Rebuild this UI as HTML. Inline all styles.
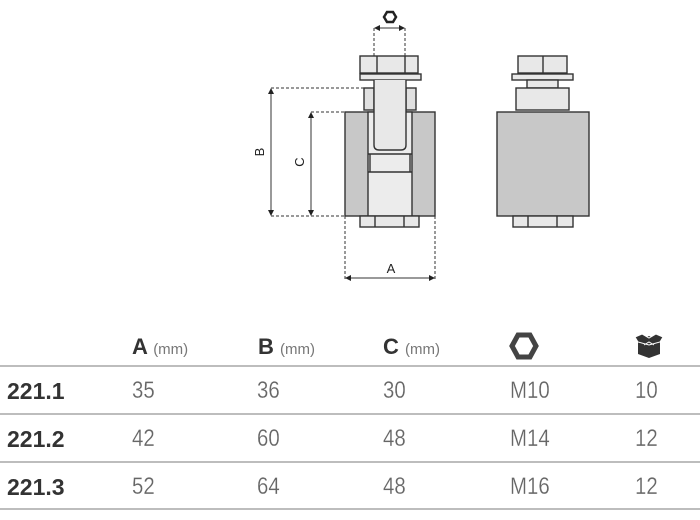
<!DOCTYPE html>
<html><head><style>
body{margin:0;width:700px;height:520px;background:#fff;overflow:hidden;position:relative;font-family:"Liberation Sans",sans-serif}
.t{position:absolute;color:#666;font-size:24px;font-weight:normal;transform:scaleX(0.85);transform-origin:left;-webkit-text-stroke:0.2px #fff}
.b{position:absolute;color:#333;font-size:23px;font-weight:bold}
.h{position:absolute;color:#333;font-size:22px;font-weight:bold}
.h span{font-weight:normal;font-size:15px;color:#777}
.ln{position:absolute;left:0;width:700px;height:2px;background:#bdbdbd}
</style></head><body>
<svg width="700" height="300" style="position:absolute;left:0;top:0" stroke="#333" stroke-width="1.4">
<defs><marker id="ar" markerWidth="6" markerHeight="6" refX="5" refY="3" orient="auto-start-reverse" markerUnits="userSpaceOnUse"><path d="M0,0L6,3L0,6z" fill="#222" stroke="none"/></marker></defs>
<polygon points="384,17 387,12 393,12 396,17 393,22 387,22" fill="none" stroke="#222" stroke-width="2.5"/>
<g stroke-dasharray="3,2" stroke-width="1"><line x1="374" y1="28" x2="374" y2="56"/><line x1="405" y1="28" x2="405" y2="56"/></g>
<line x1="375" y1="28" x2="404" y2="28" stroke-width="1" marker-start="url(#ar)" marker-end="url(#ar)"/>
<rect x="360" y="56" width="58" height="17" fill="#e8e8e8"/>
<line x1="377" y1="56" x2="377" y2="73"/><line x1="405" y1="56" x2="405" y2="73"/>
<rect x="360" y="74" width="61" height="6" fill="#e8e8e8"/>
<rect x="364" y="88" width="10" height="22" fill="#e0e0e0"/>
<rect x="406" y="88" width="10" height="22" fill="#e0e0e0"/>
<rect x="345" y="112" width="90" height="104" fill="#c8c8c8"/>
<rect x="368" y="112" width="44" height="104" fill="#ececec"/>
<path d="M374,80 V145 Q374,150 379,150 H401 Q406,150 406,145 V80" fill="#e8e8e8"/>
<line x1="368" y1="154" x2="412" y2="154"/><line x1="368" y1="172" x2="412" y2="172"/>
<line x1="370" y1="154" x2="370" y2="172"/><line x1="410" y1="154" x2="410" y2="172"/>
<rect x="360" y="216" width="59" height="11" fill="#e8e8e8"/>
<line x1="375" y1="216" x2="375" y2="227"/><line x1="404" y1="216" x2="404" y2="227"/>
<g stroke-dasharray="3,2" stroke-width="1"><line x1="271" y1="88" x2="364" y2="88"/><line x1="271" y1="216" x2="345" y2="216"/><line x1="311" y1="112" x2="345" y2="112"/>
<line x1="345" y1="216" x2="345" y2="279"/><line x1="435" y1="216" x2="435" y2="279"/></g>
<g stroke-width="1">
<line x1="271" y1="89" x2="271" y2="215" marker-start="url(#ar)" marker-end="url(#ar)"/>
<line x1="311" y1="113" x2="311" y2="215" marker-start="url(#ar)" marker-end="url(#ar)"/>
<line x1="346" y1="278" x2="434" y2="278" marker-start="url(#ar)" marker-end="url(#ar)"/></g>
<g fill="#222" stroke="none" font-family="Liberation Sans" font-size="13">
<text x="391" y="273" text-anchor="middle">A</text>
<text transform="translate(264,152) rotate(-90)" text-anchor="middle">B</text>
<text transform="translate(304,162) rotate(-90)" text-anchor="middle">C</text></g>
<rect x="518" y="56" width="49" height="17" fill="#e8e8e8"/><line x1="543" y1="56" x2="543" y2="73"/>
<rect x="512" y="74" width="61" height="6" fill="#e8e8e8"/>
<rect x="527" y="80" width="31" height="8" fill="#e8e8e8"/>
<rect x="516" y="88" width="53" height="22" fill="#e8e8e8"/>
<rect x="497" y="112" width="92" height="104" fill="#c8c8c8"/>
<rect x="513" y="216" width="60" height="11" fill="#e8e8e8"/>
<line x1="528" y1="216" x2="528" y2="227"/><line x1="557" y1="216" x2="557" y2="227"/>
</svg>
<div class="h" style="left:132px;top:334px">A <span>(mm)</span></div>
<div class="h" style="left:258px;top:334px">B <span>(mm)</span></div>
<div class="h" style="left:383px;top:334px">C <span>(mm)</span></div>
<svg style="position:absolute;left:509px;top:332px" width="30" height="28"><polygon points="3,14 9,3 21,3 27,14 21,25 9,25" fill="none" stroke="#444" stroke-width="5"/></svg>
<svg style="position:absolute;left:634px;top:333px" width="30" height="26"><path d="M4,8 L15,3 L26,8 L26,21 L15,25 L4,21Z" fill="#333"/><path d="M1,4 L8,1 L15,5 L22,1 L29,4 L26,9 L15,12 L4,9Z" fill="#333" stroke="#fff" stroke-width="1"/><path d="M10,12 L15,9 L20,12" stroke="#fff" fill="none"/></svg>
<div class="ln" style="top:365px"></div>
<div class="ln" style="top:413px"></div>
<div class="ln" style="top:461px"></div>
<div class="ln" style="top:508px"></div>
<div class="b" style="left:7px;top:378px">221.1</div>
<div class="b" style="left:7px;top:426px">221.2</div>
<div class="b" style="left:7px;top:474px">221.3</div>
<div class="t" style="left:132px;top:377px">35</div><div class="t" style="left:257px;top:377px">36</div><div class="t" style="left:383px;top:377px">30</div><div class="t" style="left:510px;top:377px">M10</div><div class="t" style="left:635px;top:377px">10</div>
<div class="t" style="left:132px;top:425px">42</div><div class="t" style="left:257px;top:425px">60</div><div class="t" style="left:383px;top:425px">48</div><div class="t" style="left:510px;top:425px">M14</div><div class="t" style="left:635px;top:425px">12</div>
<div class="t" style="left:132px;top:473px">52</div><div class="t" style="left:257px;top:473px">64</div><div class="t" style="left:383px;top:473px">48</div><div class="t" style="left:510px;top:473px">M16</div><div class="t" style="left:635px;top:473px">12</div>
</body></html>
